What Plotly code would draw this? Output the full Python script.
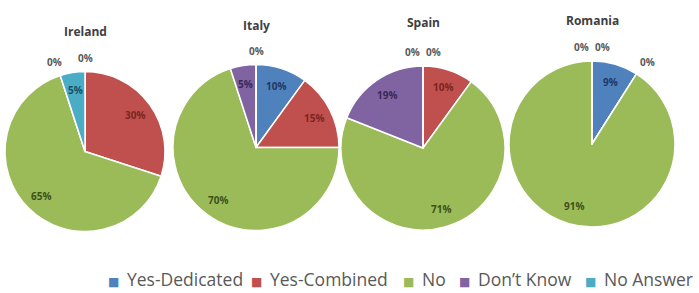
import math
import plotly.graph_objects as go

categories = ["Yes-Dedicated", "Yes-Combined", "No", "Don\u2019t Know", "No Answer"]
countries = ["Ireland", "Italy", "Spain", "Romania"]
ireland = [0, 30, 65, 0, 5]
italy = [10, 15, 70, 5, 0]
spain = [0, 10, 71, 19, 0]
romania = [9, 0, 91, 0, 0]
series = [ireland, italy, spain, romania]

colors = ["#4F81BD", "#C0504D", "#9BBB59", "#8064A2", "#4BACC6"]
text_colors = ["#1F3864", "#7B2523", "#3B5219", "#3A2858", "#1B4F63"]

W, H = 699, 293
# centre x, centre y, radius (pixels)
geom = [(85, 151.5, 80), (256, 147.5, 83), (423, 148, 82), (592, 144, 83)]
title_y = [32, 25, 22, 20]
legend_text_x = [125, 268, 420, 476, 602]
legend_sq_y = 282

fig = go.Figure()
for i, (name, vals) in enumerate(zip(countries, series)):
    cx, cy, r = geom[i]
    fig.add_trace(go.Pie(
        labels=categories, values=vals, name=name,
        sort=False, direction="clockwise", rotation=0,
        marker=dict(colors=colors, line=dict(color="white", width=1.5)),
        textinfo="none",
        domain=dict(x=[(cx - r) / W, (cx + r) / W], y=[(H - cy - r) / H, (H - cy + r) / H]),
        showlegend=False, hoverinfo="label+percent",
    ))
    fig.add_annotation(text="<b>%s</b>" % name, x=cx / W, y=1 - title_y[i] / H,
                       xref="paper", yref="paper", showarrow=False,
                       xanchor="center", yanchor="middle",
                       font=dict(family="Open Sans", size=12, color="#404040"))

    total = sum(vals)
    # labels for non-zero slices: along the bisector, inside the slice
    cum = 0
    zeros = []
    for k, v in enumerate(vals):
        if v > 0:
            mid = (cum + v / 2) / total * 2 * math.pi
            rr = r * 0.78
            fig.add_annotation(text="<b>%d%%</b>" % round(100 * v / total),
                               x=(cx + math.sin(mid) * rr) / W, y=1 - (cy - math.cos(mid) * rr) / H,
                               xref="paper", yref="paper", showarrow=False,
                               xanchor="center", yanchor="middle",
                               font=dict(family="Open Sans", size=10, color=text_colors[k]))
        else:
            zeros.append((cum / total, k))
        cum += v

    # labels for zero-valued slices, placed just outside the rim at their angle
    groups = {}
    for frac, k in zeros:
        key = round(frac % 1.0, 4)
        groups.setdefault(key, []).append((frac, k))
    for key, items in groups.items():
        items.sort(key=lambda t: (-t[0], t[1]))
        n = len(items)
        ang = key * 2 * math.pi
        rr = r + 14
        bx = cx + math.sin(ang) * (rr + 6)
        by = cy - math.cos(ang) * rr
        for j, (frac, k) in enumerate(items):
            dx = (j - (n - 1) / 2) * 21
            fig.add_annotation(text="<b>0%</b>", x=(bx + dx) / W, y=1 - by / H,
                               xref="paper", yref="paper", showarrow=False,
                               xanchor="center", yanchor="middle",
                               font=dict(family="Open Sans", size=10, color="#595959"))

# legend row
for cat, col, tx in zip(categories, colors, legend_text_x):
    fig.add_annotation(text="\u25A0", x=(tx - 12) / W, y=1 - legend_sq_y / H,
                       xref="paper", yref="paper", xanchor="center", yanchor="middle",
                       showarrow=False, font=dict(family="DejaVu Sans", size=12, color=col))
    fig.add_annotation(text=cat, x=tx / W, y=0,
                       xref="paper", yref="paper", xanchor="left", yanchor="bottom",
                       showarrow=False, font=dict(family="Open Sans", size=17.5, color="#595959"))

fig.update_layout(
    width=W, height=H, margin=dict(l=0, r=0, t=0, b=0, autoexpand=False),
    paper_bgcolor="white", plot_bgcolor="white", showlegend=False,
)
fig.write_html("out.html", config={"displayModeBar": False},
               post_script="document.body.style.margin='0';document.body.style.overflow='hidden';")
